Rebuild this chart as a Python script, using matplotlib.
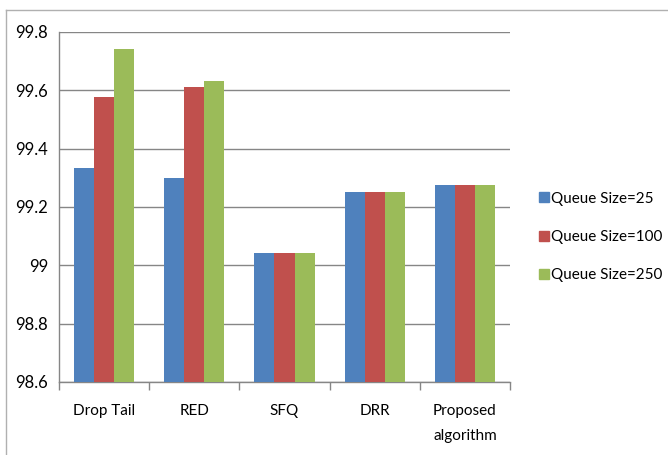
import numpy as np
import matplotlib
matplotlib.use("Agg")
import matplotlib.pyplot as plt
from matplotlib.lines import Line2D

categories = ["Drop Tail", "RED", "SFQ", "DRR", "Proposed\nalgorithm"]
q25 = [99.334, 99.30, 99.041, 99.25, 99.277]
q100 = [99.578, 99.611, 99.041, 99.25, 99.277]
q250 = [99.742, 99.633, 99.041, 99.25, 99.277]
series_names = ["Queue Size=25", "Queue Size=100", "Queue Size=250"]
colors = ["#4F81BD", "#C0504D", "#9BBB59"]

plt.rcParams['font.family'] = ['Lato', 'DejaVu Sans']

fig = plt.figure(figsize=(6.68, 4.55), dpi=100)
ax = fig.add_axes([59 / 668, 1 - 382 / 455, 451 / 668, 350 / 455])

x = np.arange(len(categories))
w = 0.222
for i, vals in enumerate([q25, q100, q250]):
    ax.bar(x + (i - 1) * w, np.array(vals) - 98.6, width=w, bottom=98.6,
           color=colors[i], label=series_names[i], zorder=3)

ax.set_xlim(-0.5, len(categories) - 0.5)
ax.set_ylim(98.6, 99.8)
ax.set_yticks(np.arange(98.6, 99.81, 0.2))
ax.set_yticklabels(["98.6", "98.8", "99", "99.2", "99.4", "99.6", "99.8"], fontsize=12)
ax.yaxis.grid(True, color="#868686", linewidth=1.0, zorder=0)
ax.tick_params(axis="y", length=0, pad=8)

ax.set_xticks(x)
ax.set_xticklabels(categories, fontsize=11, linespacing=1.95, va="top")
ax.tick_params(axis="x", which="major", length=0, pad=16)
ax.set_xticks(np.arange(-0.5, len(categories), 1.0), minor=True)
ax.tick_params(axis="x", which="minor", length=6, color="#868686", width=1)

for s in ["top", "right"]:
    ax.spines[s].set_visible(False)
for s in ["left", "bottom"]:
    ax.spines[s].set_color("#868686")
    ax.spines[s].set_linewidth(1.0)

handles = [Line2D([], [], marker="s", linestyle="none", markersize=7.5,
                  markerfacecolor=c, markeredgecolor=c) for c in colors]
fig.legend(handles, series_names, loc="center left",
           bbox_to_anchor=(524 / 668, 1 - 237 / 455), frameon=False,
           fontsize=11, labelspacing=1.6, handletextpad=0.05,
           handlelength=0.8)

# outer chart frame
fig.add_artist(Line2D([6 / 668, 6 / 668], [0, 1 - 10 / 455], color="#b0b0b0", lw=1))
fig.add_artist(Line2D([6 / 668, 1], [1 - 10 / 455, 1 - 10 / 455], color="#b0b0b0", lw=1))

fig.savefig("out.png", dpi=100)
